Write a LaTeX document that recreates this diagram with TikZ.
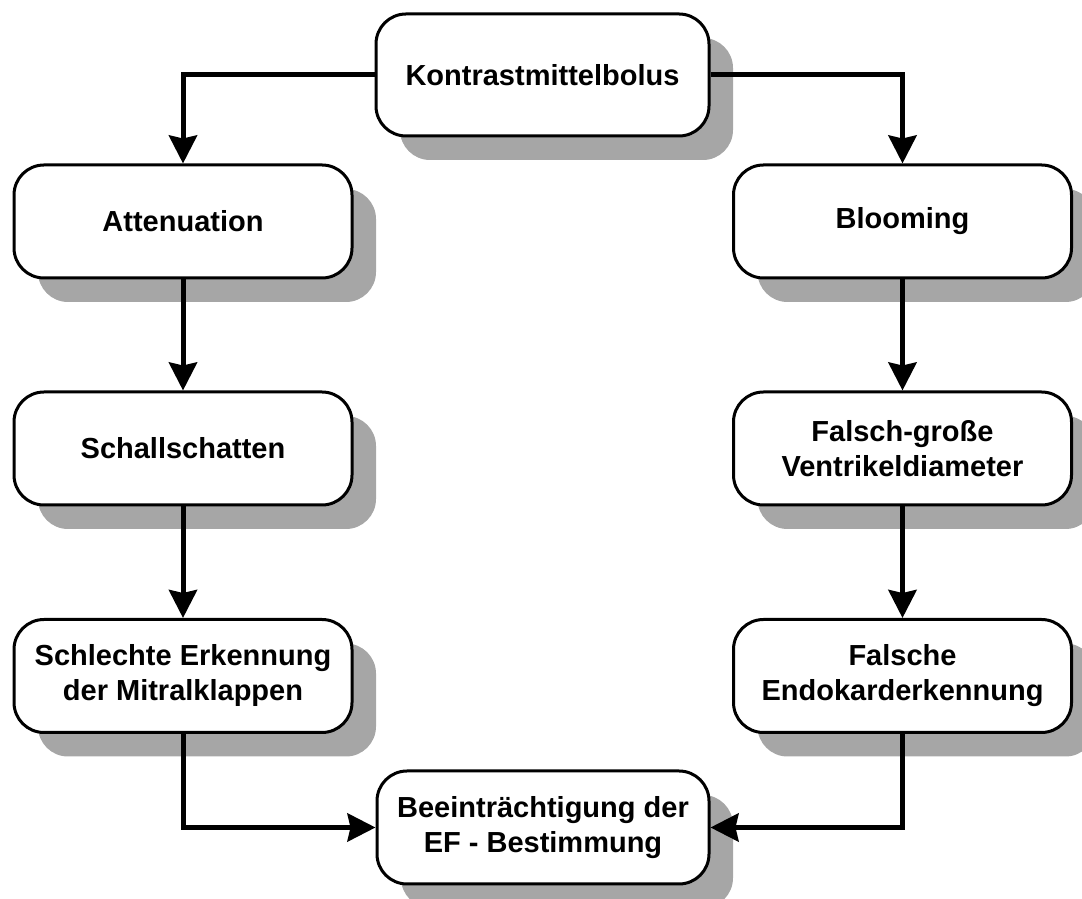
\documentclass[tikz,border=0pt]{standalone}
\usepackage{fontspec}
\setmainfont{Liberation Sans}
\usetikzlibrary{arrows.meta,shadows}
\definecolor{ink}{HTML}{000000}
\definecolor{shadowgray}{HTML}{A6A6A6}

\begin{document}
\begin{tikzpicture}[
  x=1pt,y=1pt,
  box/.style={draw=ink,line width=3pt,rounded corners=30pt,fill=white,
    minimum width=338pt,minimum height=113pt,align=center,inner sep=4pt,
    font=\bfseries\fontsize{29}{35}\selectfont,text=ink,
    general shadow={fill=shadowgray,shadow xshift=24pt,shadow yshift=-24pt}},
  flow/.style={-{Stealth[length=28pt,width=28pt,inset=3pt]},line width=5pt,draw=ink}
]
\useasboundingbox (0,0) rectangle (1082,899);

% Start
\node[box,minimum width=333pt,minimum height=122pt] (bolus) at (542.5,824) {Kontrastmittelbolus};

% Left branch
\node[box] (atten) at (183,677.5) {Attenuation};
\node[box] (schatten) at (183,450.5) {Schallschatten};
\node[box] (mitral) at (183,223) {Schlechte Erkennung\\der Mitralklappen};

% Right branch
\node[box] (bloom) at (902.5,677.5) {Blooming};
\node[box] (diam) at (902.5,450.5) {Falsch-große\\Ventrikeldiameter};
\node[box] (endo) at (902.5,223) {Falsche\\Endokarderkennung};

% Result
\node[box,minimum width=332pt] (ef) at (543,71.5) {Beeinträchtigung der\\EF - Bestimmung};

% Flows
\draw[flow] (bolus.west) -| (atten.north);
\draw[flow] (bolus.east) -| (bloom.north);
\draw[flow] (atten.south) -- (schatten.north);
\draw[flow] (schatten.south) -- (mitral.north);
\draw[flow] (bloom.south) -- (diam.north);
\draw[flow] (diam.south) -- (endo.north);
\draw[flow] (mitral.south) |- (ef.west);
\draw[flow] (endo.south) |- (ef.east);
\end{tikzpicture}
\end{document}
